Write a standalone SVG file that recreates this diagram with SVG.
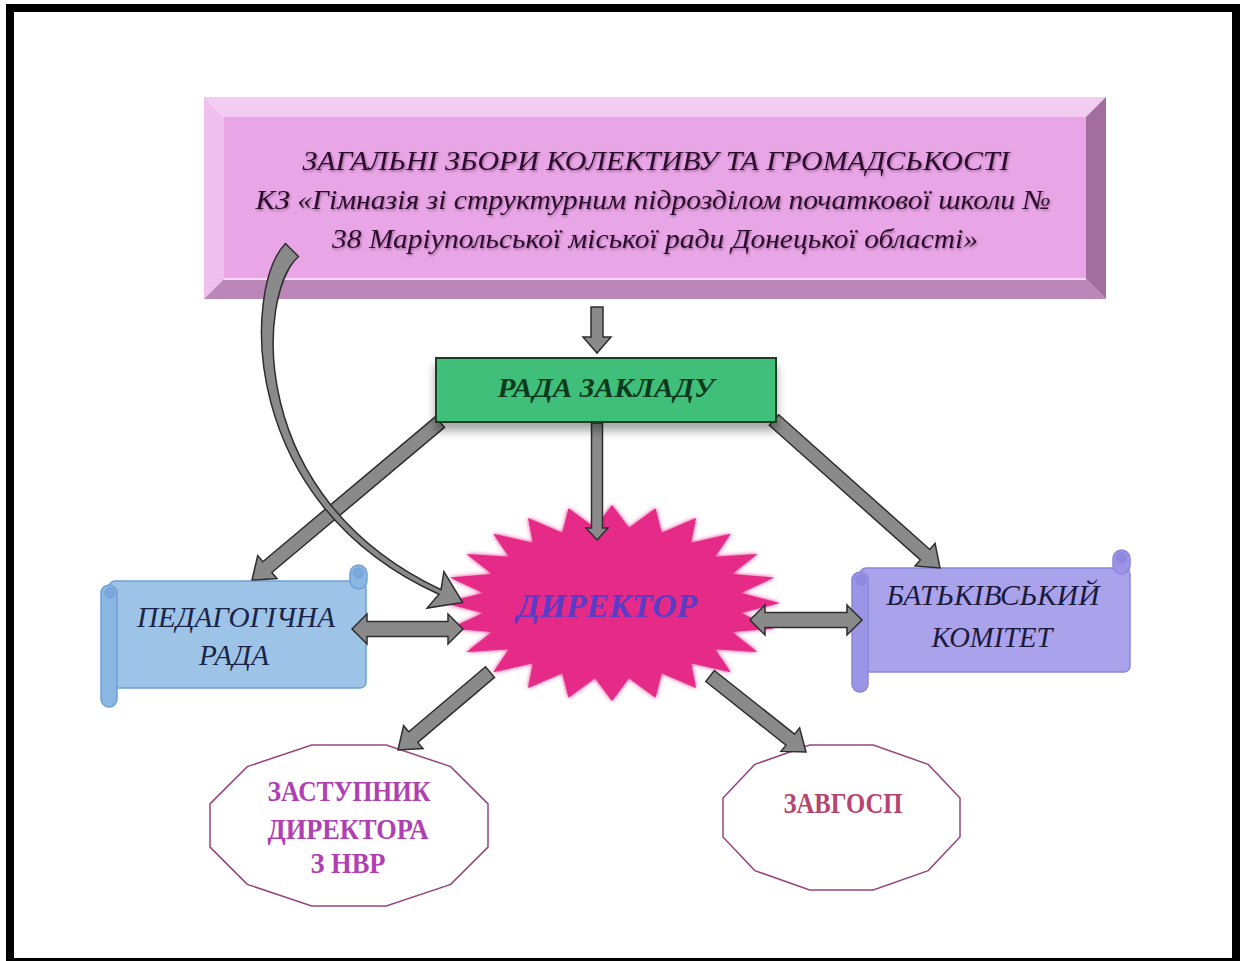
<svg xmlns="http://www.w3.org/2000/svg" width="1246" height="961" viewBox="0 0 1246 961">
<defs>
<filter id="shadow" x="-10%" y="-10%" width="120%" height="160%">
<feGaussianBlur in="SourceAlpha" stdDeviation="5"/>
<feOffset dx="0" dy="8" result="b"/>
<feComponentTransfer><feFuncA type="linear" slope="0.35"/></feComponentTransfer>
<feMerge><feMergeNode/><feMergeNode in="SourceGraphic"/></feMerge>
</filter>
<filter id="glow" x="-10%" y="-10%" width="120%" height="120%">
<feGaussianBlur in="SourceGraphic" stdDeviation="2"/>
<feMerge><feMergeNode/><feMergeNode in="SourceGraphic"/></feMerge>
</filter>
<filter id="tshadow" x="-5%" y="-30%" width="110%" height="160%">
<feDropShadow dx="1" dy="1.5" stdDeviation="1.2" flood-color="#5a2a5a" flood-opacity="0.55"/>
</filter>
</defs>
<style>
.top{font-family:"Liberation Serif","Times New Roman",serif;font-style:italic;font-size:28px;fill:#2b0f2b;text-anchor:middle}
.scroll{font-family:"Liberation Serif","Times New Roman",serif;font-style:italic;font-size:29px;text-anchor:middle}
.bi{font-family:"Liberation Serif","Times New Roman",serif;font-style:italic;font-weight:bold;text-anchor:middle}
.oct{font-family:"Liberation Serif","Times New Roman",serif;font-weight:bold;font-size:29px;text-anchor:middle}
.arrow{fill:#8a8a8a;stroke:#2e2e2e;stroke-width:1.5;stroke-linejoin:miter}
.dodeca{fill:#ffffff;stroke:#95457f;stroke-width:1.5}
</style>
<rect x="0" y="0" width="1246" height="961" fill="#ffffff"/>
<rect id="frame" x="10" y="8" width="1226" height="954" fill="none" stroke="#000000" stroke-width="8"/>

<g id="general-meeting">
<polygon points="204,97 1106,97 1086,117 224,117" fill="#f3cdf1"/>
<polygon points="204,97 224,117 224,279 204,299" fill="#efbfed"/>
<polygon points="1106,97 1106,299 1086,279 1086,117" fill="#a26ea0"/>
<polygon points="204,299 224,279 1086,279 1106,299" fill="#bb86b9"/>
<rect x="224" y="117" width="862" height="162" fill="#e9a6e6"/>
<line x1="224" y1="279" x2="1086" y2="279" stroke="#f6d8f4" stroke-width="2"/>
<g filter="url(#tshadow)">
<text class="top" x="656" y="170" textLength="707" lengthAdjust="spacingAndGlyphs">ЗАГАЛЬНІ ЗБОРИ КОЛЕКТИВУ ТА ГРОМАДСЬКОСТІ</text>
<text class="top" x="653" y="209" textLength="795" lengthAdjust="spacingAndGlyphs">КЗ «Гімназія зі структурним підрозділом початкової школи №</text>
<text class="top" x="655" y="248" textLength="646" lengthAdjust="spacingAndGlyphs">38 Маріупольської міської ради Донецької області»</text>
</g>
</g>

<g id="director">
<polygon filter="url(#glow)" fill="#e52a87" points="780,603 740.9,612.9 774.3,628.4 732.1,632.1 757.5,652 715.1,649.3 730.8,672.3 691.1,663.3 696,687.9 661.7,673.2 655.5,697.7 629,678.3 612,701 595,678.3 568.5,697.7 562.3,673.2 528,687.9 532.9,663.3 493.2,672.3 508.9,649.3 466.5,652 491.9,632.1 449.7,628.4 483.1,612.9 444,603 483.1,593.1 449.7,577.6 491.9,573.9 466.5,554 508.9,556.7 493.2,533.7 532.9,542.7 528,518.1 562.3,532.8 568.5,508.3 595,527.7 612,505 629,527.7 655.5,508.3 661.7,532.8 696,518.1 691.1,542.7 730.8,533.7 715.1,556.7 757.5,554 732.1,573.9 774.3,577.6 740.9,593.1"/>
<text class="bi" x="607" y="617" font-size="33" fill="#5a3cc6" textLength="180" lengthAdjust="spacingAndGlyphs">ДИРЕКТОР</text>
</g>

<g id="pedagogical-council">
<rect x="109" y="581" width="257" height="107" rx="6" fill="#9dc3e6" stroke="#6fa0d6" stroke-width="1.5"/>
<rect x="350" y="565" width="17" height="24" rx="8.5" fill="#8ab6e2" stroke="#6fa0d6" stroke-width="1.5"/>
<circle cx="358.5" cy="573" r="5" fill="#79a9dc" stroke="#6fa0d6" stroke-width="1"/>
<rect x="101" y="585" width="16" height="122" rx="8" fill="#8ab6e2" stroke="#6fa0d6" stroke-width="1.5"/>
<circle cx="110" cy="593" r="5" fill="#79a9dc" stroke="#6fa0d6" stroke-width="1"/>
<text class="scroll" x="236" y="627" fill="#1a2448" textLength="198" lengthAdjust="spacingAndGlyphs">ПЕДАГОГІЧНА</text>
<text class="scroll" x="234" y="665" fill="#1a2448" textLength="70" lengthAdjust="spacingAndGlyphs">РАДА</text>
</g>

<g id="parents-committee">
<rect x="860" y="568" width="270" height="104" rx="6" fill="#aaa3ec" stroke="#8c85dc" stroke-width="1.5"/>
<rect x="1113" y="550" width="17" height="24" rx="8.5" fill="#9c95e5" stroke="#8c85dc" stroke-width="1.5"/>
<circle cx="1121.5" cy="558" r="5" fill="#8f88df" stroke="#8c85dc" stroke-width="1"/>
<rect x="852" y="572" width="16" height="120" rx="8" fill="#9c95e5" stroke="#8c85dc" stroke-width="1.5"/>
<circle cx="861" cy="580" r="5" fill="#8f88df" stroke="#8c85dc" stroke-width="1"/>
<text class="scroll" x="993" y="605" fill="#1a1a3c" textLength="213" lengthAdjust="spacingAndGlyphs">БАТЬКІВСЬКИЙ</text>
<text class="scroll" x="992" y="647" fill="#1a1a3c" textLength="121" lengthAdjust="spacingAndGlyphs">КОМІТЕТ</text>
</g>

<g id="deputy-director">
<polygon class="dodeca" points="210,803.9 247.3,766.6 311.7,745 386.3,745 450.7,766.6 488,803.9 488,847.1 450.7,884.4 386.3,906 311.7,906 247.3,884.4 210,847.1"/>
<text class="oct" x="349" y="801" fill="#b040b2" textLength="163" lengthAdjust="spacingAndGlyphs">ЗАСТУПНИК</text>
<text class="oct" x="348" y="839" fill="#b040b2" textLength="161" lengthAdjust="spacingAndGlyphs">ДИРЕКТОРА</text>
<text class="oct" x="348" y="873" fill="#b040b2" textLength="75" lengthAdjust="spacingAndGlyphs">З НВР</text>
</g>

<g id="zavhosp">
<polygon class="dodeca" points="723,798.1 754.8,764.4 809.7,745 873.3,745 928.2,764.4 960,798.1 960,836.9 928.2,870.6 873.3,890 809.7,890 754.8,870.6 723,836.9"/>
<text class="oct" x="843" y="813" fill="#b5456f" textLength="119" lengthAdjust="spacingAndGlyphs">ЗАВГОСП</text>
</g>

<g id="connectors">
<polygon class="arrow" points="591,307 603,307 603,337 611,337 597,353 583,337 591,337"/>
<polygon class="arrow" points="591.5,423 602.5,423 602.5,528 608,528 597,540 586,528 591.5,528"/>
<polygon class="arrow" points="444.5,427.4 271.8,572.5 277,578.6 252,580 257.7,555.6 262.8,561.7 435.5,416.6"/>
<polygon class="arrow" points="769.3,425.2 920.4,559.9 915.1,565.9 940,568 935.1,543.5 929.8,549.5 778.7,414.8"/>
<polygon class="arrow" points="485.5,666.7 408.8,731.8 403.6,725.7 398,750 423,748.5 417.8,742.4 494.5,677.3"/>
<polygon class="arrow" points="705.7,681.5 786,745.1 781,751.4 806,752 799.6,727.8 794.6,734.1 714.3,670.5"/>
<polygon class="arrow" points="352,629 367,614 367,621.5 448,621.5 448,614 463,629 448,644 448,636.5 367,636.5 367,644"/>
<polygon class="arrow" points="750,620 765,605 765,612.5 847,612.5 847,605 862,620 847,635 847,627.5 765,627.5 765,635"/>
<path class="arrow" d="M298.5,256.5 L285.5,243.5 C243,288 237,503 439,594.3 L427.1,608.1 L462.7,602.5 L443.9,571.7 L441,589.7 C244,497 257,293 298.5,256.5 Z"/>
</g>

<g id="school-council">
<rect x="436" y="358" width="340" height="64" fill="#3fbf7a" stroke="#1d3d24" stroke-width="2" filter="url(#shadow)"/>
<text class="bi" x="606" y="397" font-size="28" fill="#0d3a1d" textLength="217" lengthAdjust="spacingAndGlyphs">РАДА ЗАКЛАДУ</text>
</g>
</svg>
